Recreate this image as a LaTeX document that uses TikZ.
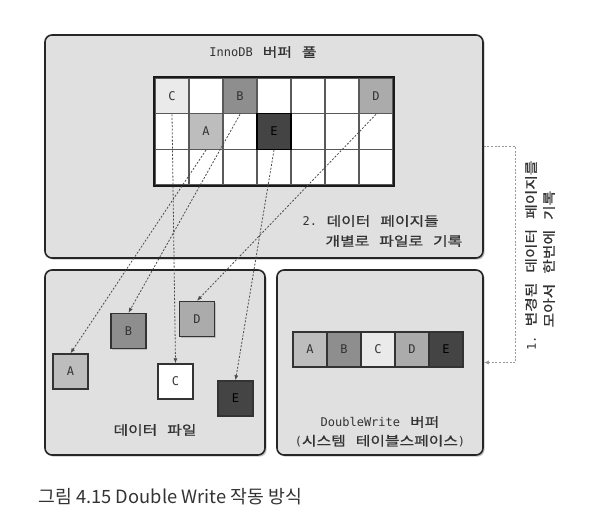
\documentclass[tikz,border=0pt]{standalone}
\usepackage{fontspec}
\newfontfamily\kr[FakeStretch=1.22,FakeBold=1]{Noto Sans CJK KR}
\newfontfamily\capfont{Noto Sans CJK KR}
\newfontfamily\mono{DejaVu Sans Mono}
\usetikzlibrary{arrows.meta,shadows}
\definecolor{panelfill}{HTML}{E0E0E0}
\definecolor{txt}{HTML}{333333}
\definecolor{cA}{HTML}{BDBDBD}
\definecolor{cB}{HTML}{8E8E8E}
\definecolor{cC}{HTML}{EAEAEA}
\definecolor{cD}{HTML}{ABABAB}
\definecolor{cE}{HTML}{444444}
\newcommand\K[1]{{\kr\fontsize{13}{15}\selectfont #1}}
\newcommand\KS{\hspace{10pt}}
\begin{document}
\begin{tikzpicture}[x=1pt,y=-1pt,
  font=\mono\fontsize{12}{14}\selectfont, text=txt,
  panel/.style={draw=black!85, line width=1.6pt, fill=panelfill, rounded corners=7pt,
    drop shadow={shadow xshift=1.6pt, shadow yshift=-1.6pt, fill=black!45}},
  cell/.style={draw=black!65, line width=1.3pt, minimum width=34pt, minimum height=35.67pt, inner sep=0pt, fill=white},
  page/.style={draw=black!80, line width=1.4pt, minimum size=35pt, inner sep=0pt,
    drop shadow={shadow xshift=1.2pt, shadow yshift=-1.2pt, fill=black!40}},
  dwcell/.style={draw=black!80, line width=1.2pt, minimum width=34pt, minimum height=35pt, inner sep=0pt},
  flow/.style={draw=black!70, line width=0.8pt, dash pattern=on 2pt off 1.6pt, -{Latex[length=5pt,width=4pt]}},
  darktext/.style={text=black},
]
\useasboundingbox (0,0) rectangle (606,522);
\fill[white] (0,0) rectangle (606,522);

% panels
\node[panel, minimum width=438pt, minimum height=223pt] (pool) at (264,146.5) {};
\node[panel, minimum width=220pt, minimum height=185pt] (files) at (155,362.5) {};
\node[panel, minimum width=206pt, minimum height=185pt] (dw) at (380,362.5) {};

% buffer pool grid
\foreach \r in {1,2,3}{\foreach \c in {1,...,7}{
  \node[cell] (g-\r-\c) at ({155+34*(\c-0.5)},{78+35.67*(\r-0.5)}) {};}}
\node[cell, fill=cC] (pC) at (g-1-1.center) {C};
\node[cell, fill=cB] (pB) at (g-1-3.center) {B};
\node[cell, fill=cD] (pD) at (g-1-7.center) {D};
\node[cell, fill=cA] (pA) at (g-2-2.center) {A};
\node[cell, fill=cE, draw=black, darktext] (pE) at (g-2-4.center) {E};
\draw[black!90, line width=1.8pt] (g-1-1.north west) rectangle (g-3-7.south east);

\node (pooltitle) at (263,52) {InnoDB\KS\K{버퍼}\KS\K{풀}};
\node[anchor=west] (lab2a) at (299,221) {2. \K{데이터}\KS\K{페이지들}};
\node[anchor=west] (lab2b) at (322,241) {\K{개별로}\KS\K{파일로}\KS\K{기록}};

% data file pages
\node[page, fill=cA] (fA) at (70.5,371.5) {A};
\node[page, fill=cB] (fB) at (128.5,331) {B};
\node[page, fill=cD] (fD) at (197,319) {D};
\node[page, fill=white] (fC) at (175.5,381.5) {C};
\node[page, fill=cE, darktext] (fE) at (235.5,398.5) {E};
\node (fileslabel) at (155,430) {\K{데이터}\KS\K{파일}};

% doublewrite buffer
\node[dwcell, fill=cA] (dA) at (310,349.5) {A};
\node[dwcell, fill=cB] (dB) at (344,349.5) {B};
\node[dwcell, fill=cC] (dC) at (378,349.5) {C};
\node[dwcell, fill=cD] (dD) at (412,349.5) {D};
\node[dwcell, fill=cE, darktext] (dE) at (446,349.5) {E};
\node (dwlabel1) at (380,422) {DoubleWrite\KS\K{버퍼}};
\node (dwlabel2) at (380,441) {(\K{시스템}\KS\K{테이블스페이스})};

% arrows
\draw[flow] (pC.south) -- (fC.north);
\draw[flow] (pB.south) -- (fB.north);
\draw[flow] (pA.south) -- (fA.north);
\draw[flow] (pE.south) -- (fE.north);
\draw[flow] (pD.south) -- (fD.north);
\draw[flow, draw=black!40] (pool.east) -- ++(32,0) |- (dw.east);

\node[rotate=90, anchor=west] (lab1a) at (531,354) {1. \K{변경된}\KS\K{데이터}\KS\K{페이지를}};
\node[rotate=90, anchor=west] (lab1b) at (549,331) {\K{모아서}\KS\K{한번에}\KS\K{기록}};

\node[anchor=west, font=\capfont\fontsize{18.3}{21}\selectfont, text=black!80] (caption) at (35,497) {그림 4.15 Double Write 작동 방식};
\end{tikzpicture}
\end{document}
